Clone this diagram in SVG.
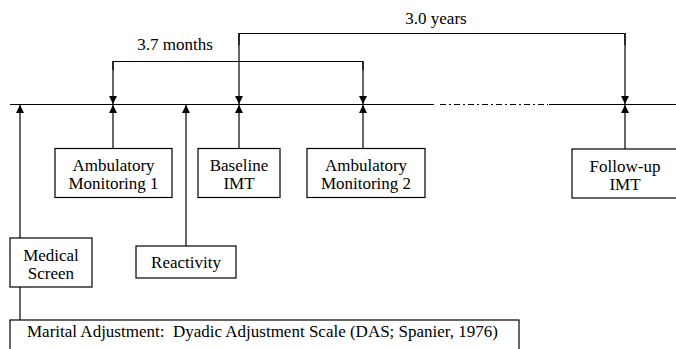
<svg xmlns="http://www.w3.org/2000/svg" width="676" height="349" viewBox="0 0 676 349">
<style>
.t{font-size:17px;fill:#000;text-anchor:middle}
.box{fill:#fff;stroke:#000;stroke-width:1.2}
.ln{fill:none;stroke:#000;stroke-width:1.2}
</style>
<defs>
<marker id="ah" viewBox="0 0 8 8" refX="8" refY="4" markerWidth="8" markerHeight="8" markerUnits="userSpaceOnUse" orient="auto">
<path d="M0,0 L8,4 L0,8 Z" fill="#000"/>
</marker>
</defs>
<rect width="676" height="349" fill="#fff"/>
<g id="timeline">
<line class="ln" x1="10" y1="104.5" x2="434" y2="104.5"/>
<line class="ln" x1="440" y1="104.5" x2="548" y2="104.5" stroke-dasharray="6 3 2 3"/>
<line class="ln" x1="549" y1="104.5" x2="676" y2="104.5"/>
</g>
<g id="connectors">
<polyline class="ln" points="113,70 113,61.5 363,61.5 363,70"/>
<polyline class="ln" points="239,45 239,33.5 625,33.5 625,45"/>
<line class="ln" x1="113" y1="61.5" x2="113" y2="104" marker-end="url(#ah)"/>
<line class="ln" x1="363" y1="61.5" x2="363" y2="104" marker-end="url(#ah)"/>
<line class="ln" x1="239" y1="33.5" x2="239" y2="104" marker-end="url(#ah)"/>
<line class="ln" x1="625" y1="33.5" x2="625" y2="104" marker-end="url(#ah)"/>
<line class="ln" x1="20" y1="320" x2="20" y2="105" marker-end="url(#ah)"/>
<line class="ln" x1="113" y1="148" x2="113" y2="105" marker-end="url(#ah)"/>
<line class="ln" x1="186" y1="246" x2="186" y2="105" marker-end="url(#ah)"/>
<line class="ln" x1="239" y1="148" x2="239" y2="105" marker-end="url(#ah)"/>
<line class="ln" x1="363" y1="148" x2="363" y2="105" marker-end="url(#ah)"/>
<line class="ln" x1="625" y1="149" x2="625" y2="105" marker-end="url(#ah)"/>
</g>
<g font-family="Liberation Serif, Times New Roman, serif">
<g id="label-months"><text class="t" x="175" y="50">3.7 months</text></g>
<g id="label-years"><text class="t" x="436" y="24">3.0 years</text></g>
<g id="amb1">
<rect class="box" x="55" y="148.5" width="117" height="49"/>
<text class="t" x="113.5" y="171">Ambulatory</text>
<text class="t" x="113.5" y="189">Monitoring 1</text>
</g>
<g id="baseline">
<rect class="box" x="198" y="148.5" width="82" height="49"/>
<text class="t" x="239" y="171">Baseline</text>
<text class="t" x="239" y="189">IMT</text>
</g>
<g id="amb2">
<rect class="box" x="307" y="148.5" width="118" height="49"/>
<text class="t" x="366" y="171">Ambulatory</text>
<text class="t" x="366" y="189">Monitoring 2</text>
</g>
<g id="followup">
<rect class="box" x="572" y="149" width="110" height="49"/>
<text class="t" x="625" y="172">Follow-up</text>
<text class="t" x="625" y="190">IMT</text>
</g>
<g id="medical">
<rect class="box" x="10" y="238" width="82" height="49"/>
<text class="t" x="51" y="261">Medical</text>
<text class="t" x="51" y="279">Screen</text>
</g>
<g id="reactivity">
<rect class="box" x="136" y="246" width="100" height="32"/>
<text class="t" x="186" y="268">Reactivity</text>
</g>
<g id="marital">
<rect class="box" x="10" y="320" width="509" height="40"/>
<text class="t" x="27" y="337" style="text-anchor:start" xml:space="preserve">Marital Adjustment:  Dyadic Adjustment Scale (DAS; Spanier, 1976)</text>
</g>
</g>
</svg>
